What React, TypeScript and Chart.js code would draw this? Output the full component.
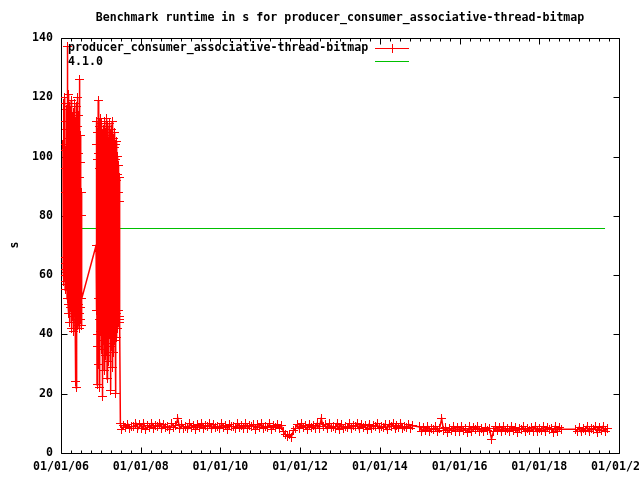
import React, { useEffect, useRef } from "react";
import { Chart, registerables } from "chart.js";

Chart.register(...registerables);

const TITLE = "Benchmark runtime in s for producer_consumer_associative-thread-bitmap";
const Y_TITLE = "s";
const SERIES_RUN = "producer_consumer_associative-thread-bitmap";
const SERIES_VERSION = "4.1.0";

// first burst of runs (decimal years / seconds)
const BURST1_YEARS = [
  2006.050, 2006.056, 2006.062, 2006.068, 2006.074, 2006.080, 2006.086, 2006.092, 2006.098, 2006.104,
  2006.110, 2006.116, 2006.122, 2006.128, 2006.134, 2006.140, 2006.146, 2006.152, 2006.158, 2006.164,
  2006.170, 2006.176, 2006.182, 2006.188, 2006.194, 2006.200, 2006.206, 2006.212, 2006.218, 2006.224,
  2006.230, 2006.236, 2006.242, 2006.248, 2006.254, 2006.260, 2006.266, 2006.272, 2006.278, 2006.284,
  2006.290, 2006.296, 2006.302, 2006.308, 2006.314, 2006.320, 2006.326, 2006.332, 2006.338, 2006.344,
  2006.350, 2006.356, 2006.362, 2006.368, 2006.374, 2006.380, 2006.386, 2006.392, 2006.398, 2006.404,
  2006.410, 2006.416, 2006.422, 2006.428, 2006.434, 2006.440, 2006.446, 2006.452, 2006.458, 2006.464,
  2006.470, 2006.476, 2006.482, 2006.488, 2006.494, 2006.500, 2006.506, 2006.512, 2006.518, 2006.524,
];
const BURST1_SECONDS = [
  104, 62, 118, 58, 96, 66, 112, 60, 120, 55,
  88, 64, 102, 57, 116, 61, 109, 52, 137, 63,
  98, 50, 121, 59, 106, 47, 117, 56, 92, 44,
  113, 60, 100, 49, 119, 54, 95, 42, 111, 58,
  104, 46, 115, 53, 90, 41, 108, 57, 118, 48,
  99, 44, 112, 24, 103, 22, 117, 51, 96, 43,
  110, 55, 120, 45, 101, 50, 114, 42, 126, 47,
  93, 52, 107, 45, 98, 49, 88, 43, 80, 52,
];

// second burst of runs
const BURST2_YEARS = [
  2006.880, 2006.886, 2006.892, 2006.898, 2006.904, 2006.910, 2006.916, 2006.922, 2006.928, 2006.934,
  2006.940, 2006.946, 2006.952, 2006.958, 2006.964, 2006.970, 2006.976, 2006.982, 2006.988, 2006.994,
  2007.000, 2007.006, 2007.012, 2007.018, 2007.024, 2007.030, 2007.036, 2007.042, 2007.048, 2007.054,
  2007.060, 2007.066, 2007.072, 2007.078, 2007.084, 2007.090, 2007.096, 2007.102, 2007.108, 2007.114,
  2007.120, 2007.126, 2007.132, 2007.138, 2007.144, 2007.150, 2007.156, 2007.162, 2007.168, 2007.174,
  2007.180, 2007.186, 2007.192, 2007.198, 2007.204, 2007.210, 2007.216, 2007.222, 2007.228, 2007.234,
  2007.240, 2007.246, 2007.252, 2007.258, 2007.264, 2007.270, 2007.276, 2007.282, 2007.288, 2007.294,
  2007.300, 2007.306, 2007.312, 2007.318, 2007.324, 2007.330, 2007.336, 2007.342, 2007.348, 2007.354,
  2007.360, 2007.366, 2007.372, 2007.378, 2007.384, 2007.390, 2007.396, 2007.402, 2007.408, 2007.414,
  2007.420, 2007.426, 2007.432, 2007.438, 2007.444, 2007.450, 2007.456, 2007.462, 2007.468, 2007.474,
  2007.480,
];
const BURST2_SECONDS = [
  70, 104, 48, 112, 23, 99, 40, 108, 36, 119,
  52, 101, 30, 110, 45, 96, 22, 113, 41, 104,
  50, 98, 35, 111, 47, 107, 19, 95, 43, 109,
  38, 102, 49, 97, 28, 112, 44, 106, 33, 100,
  51, 108, 39, 94, 46, 113, 25, 103, 42, 110,
  37, 99, 48, 105, 31, 111, 45, 96, 40, 107,
  21, 102, 47, 109, 36, 98, 44, 112, 29, 101,
  50, 95, 41, 106, 34, 103, 46, 90, 38, 108,
  43, 99, 20, 104, 47, 92, 39, 105, 45, 100,
  42, 94, 48, 97, 44, 88, 46, 93, 45, 85,
  44,
];

// steady period after the fix
const STEADY_YEARS = [
  2007.49, 2007.53, 2007.58, 2007.63, 2007.68, 2007.73, 2007.78, 2007.83, 2007.88, 2007.93, 2007.98,
  2008.03, 2008.08, 2008.13, 2008.18, 2008.23, 2008.28, 2008.33, 2008.38, 2008.43, 2008.48,
  2008.53, 2008.58, 2008.63, 2008.68, 2008.73, 2008.78, 2008.83, 2008.88, 2008.93, 2008.98,
  2009.03, 2009.08, 2009.13, 2009.18, 2009.23, 2009.28, 2009.33, 2009.38, 2009.43, 2009.48,
  2009.53, 2009.58, 2009.63, 2009.68, 2009.73, 2009.78, 2009.83, 2009.88, 2009.93, 2009.98,
  2010.03, 2010.08, 2010.13, 2010.18, 2010.23, 2010.28, 2010.33, 2010.38, 2010.43, 2010.48,
  2010.53, 2010.58, 2010.63, 2010.68, 2010.73, 2010.78, 2010.83, 2010.88, 2010.93, 2010.98,
  2011.03, 2011.08, 2011.13, 2011.18, 2011.23, 2011.28, 2011.33, 2011.38, 2011.43, 2011.48,
  2011.53, 2011.58, 2011.63, 2011.68, 2011.73, 2011.78, 2011.83, 2011.88, 2011.93, 2011.98,
  2012.03, 2012.08, 2012.13, 2012.18, 2012.23, 2012.28, 2012.33, 2012.38, 2012.43, 2012.48,
  2012.53, 2012.58, 2012.63, 2012.68, 2012.73, 2012.78, 2012.83, 2012.88, 2012.93, 2012.98,
  2013.03, 2013.08, 2013.13, 2013.18, 2013.23, 2013.28, 2013.33, 2013.38, 2013.43, 2013.48,
  2013.53, 2013.58, 2013.63, 2013.68, 2013.73, 2013.78, 2013.83, 2013.88, 2013.93, 2013.98,
  2014.03, 2014.08, 2014.13, 2014.18, 2014.23, 2014.28, 2014.33, 2014.38, 2014.43, 2014.48,
  2014.53, 2014.58, 2014.63, 2014.68, 2014.73, 2014.78, 2014.83,
  2015.00, 2015.05, 2015.10, 2015.15, 2015.20, 2015.25, 2015.30, 2015.35, 2015.40, 2015.45,
  2015.50, 2015.55, 2015.60, 2015.65, 2015.70, 2015.75, 2015.80, 2015.85, 2015.90, 2015.95,
  2016.00, 2016.05, 2016.10, 2016.15, 2016.20, 2016.25, 2016.30, 2016.35, 2016.40, 2016.45,
  2016.50, 2016.55, 2016.60, 2016.65, 2016.70, 2016.75, 2016.80, 2016.85, 2016.90, 2016.95,
  2017.00, 2017.05, 2017.10, 2017.15, 2017.20, 2017.25, 2017.30, 2017.35, 2017.40, 2017.45,
  2017.50, 2017.55, 2017.60, 2017.65, 2017.70, 2017.75, 2017.80, 2017.85, 2017.90, 2017.95,
  2018.00, 2018.05, 2018.10, 2018.15, 2018.20, 2018.25, 2018.30, 2018.35, 2018.40, 2018.45,
  2018.50, 2018.55, 2018.90, 2018.95,
  2019.00, 2019.05, 2019.10, 2019.15, 2019.20, 2019.25, 2019.30, 2019.35, 2019.40, 2019.45,
  2019.50, 2019.55, 2019.60, 2019.65, 2019.70,
];
const STEADY_SECONDS = [
  9.9, 8.0, 9.3, 8.6, 9.7, 8.2, 9.0, 8.8, 10.0, 8.1, 9.5,
  8.4, 9.8, 8.0, 9.2, 8.7, 9.9, 8.3, 9.4, 8.9, 10.1,
  8.2, 9.6, 8.5, 9.1, 8.0, 9.8, 8.6, 9.3, 11.6, 8.2,
  9.7, 8.4, 9.0, 8.1, 9.9, 8.7, 9.4, 8.0, 9.6, 8.5,
  10.0, 8.3, 9.2, 8.8, 9.8, 8.1, 9.5, 8.6, 9.1, 8.2,
  9.9, 8.5, 9.3, 8.0, 9.7, 8.8, 9.0, 8.3, 10.0, 8.6,
  9.4, 8.1, 9.8, 8.4, 9.2, 8.9, 9.6, 8.0, 9.5, 8.7,
  9.9, 8.2, 9.1, 8.6, 9.8, 8.0, 9.4, 8.5, 9.7, 8.3,
  9.2, 7.2, 6.1, 5.6, 6.4, 5.3, 7.5, 8.4, 9.6, 8.1,
  9.9, 8.5, 9.2, 8.0, 9.7, 8.7, 9.4, 8.2, 10.0, 8.4,
  11.6, 8.8, 9.5, 8.1, 9.8, 8.6, 9.1, 8.3, 9.9, 8.0,
  9.6, 8.4, 9.0, 8.7, 9.8, 8.2, 9.3, 8.9, 10.0, 8.1,
  9.5, 8.6, 9.2, 8.0, 9.7, 8.4, 9.4, 8.8, 9.9, 8.3,
  9.1, 8.6, 9.7, 8.0, 9.5, 8.8, 9.9, 8.2, 9.3, 8.5,
  9.8, 8.1, 9.0, 8.7, 9.6, 8.3, 9.2,
  8.8, 7.2, 8.5, 7.6, 9.0, 7.3, 8.2, 7.8, 8.9, 7.1,
  8.4, 11.6, 7.5, 8.7, 7.0, 8.3, 7.7, 9.0, 7.4, 8.6,
  7.2, 8.8, 7.6, 8.1, 7.0, 8.9, 7.4, 8.5, 7.8, 9.0,
  7.3, 8.3, 7.1, 8.7, 7.5, 8.4, 4.7, 7.2, 8.9, 7.6,
  8.5, 7.1, 8.8, 7.7, 8.2, 7.3, 9.0, 7.5, 8.6, 7.0,
  8.4, 7.8, 8.9, 7.2, 8.1, 7.6, 8.7, 7.4, 9.0, 7.1,
  8.3, 7.5, 8.8, 7.2, 8.6, 7.9, 8.1, 7.0, 8.9, 7.4,
  8.5, 8.0, 8.0, 7.3,
  8.7, 7.1, 8.4, 7.6, 9.0, 7.2, 8.2, 7.8, 8.8, 7.0,
  8.5, 7.5, 8.9, 7.3, 8.1,
];

const VERSION_YEARS = [2006.15, 2019.65];
const VERSION_SECONDS = [76, 76];

const X_TICKS = [2006, 2008, 2010, 2012, 2014, 2016, 2018, 2020];
const Y_TICKS = [0, 20, 40, 60, 80, 100, 120, 140];

const RED = "#ff0000";
const GREEN = "#00c000";
const FONT_FAMILY = "'DejaVu Sans Mono', monospace";
const FONT = "bold 11.6px " + FONT_FAMILY;

function makeCross(color: string): HTMLCanvasElement {
  const c = document.createElement("canvas");
  c.width = 9;
  c.height = 9;
  const g = c.getContext("2d")!;
  g.fillStyle = color;
  g.fillRect(0, 4, 9, 1);
  g.fillRect(4, 0, 1, 9);
  return c;
}

const framePlugin = {
  id: "gnuframe",
  beforeDatasetsDraw(chart: any) {
    const { ctx, chartArea } = chart;
    const xs = chart.scales.x;
    const ys = chart.scales.y;
    const l = Math.round(chartArea.left) + 0.5;
    const r = Math.round(chartArea.right) + 0.5;
    const t = Math.round(chartArea.top) + 0.5;
    const b = Math.round(chartArea.bottom) + 0.5;
    ctx.save();
    ctx.strokeStyle = "#000";
    ctx.lineWidth = 1;
    ctx.beginPath();
    ctx.rect(l, t, r - l, b - t);
    for (let q = 0; q <= 56; q++) {
      const v = X_TICKS[0] + q * 0.25;
      const px = Math.round(xs.getPixelForValue(v)) + 0.5;
      const len = q % 8 === 0 ? 6 : 3;
      ctx.moveTo(px, b);
      ctx.lineTo(px, b - len);
      ctx.moveTo(px, t);
      ctx.lineTo(px, t + len);
    }
    for (const v of Y_TICKS) {
      const py = Math.round(ys.getPixelForValue(v)) + 0.5;
      ctx.moveTo(l, py);
      ctx.lineTo(l + 6, py);
      ctx.moveTo(r, py);
      ctx.lineTo(r - 6, py);
    }
    ctx.stroke();
    ctx.restore();
    ctx.imageSmoothingEnabled = false;
  },
  beforeDatasetDraw(chart: any, args: any) {
    if (args.index !== 1) return;
    const ys = chart.scales.y;
    const py = ys.getPixelForValue(VERSION_SECONDS[0]);
    const snapped = Math.round(py) + 0.5;
    chart.ctx.save();
    chart.ctx.translate(0, snapped - py);
  },
  afterDatasetDraw(chart: any, args: any) {
    if (args.index !== 1) return;
    chart.ctx.restore();
  },
  afterDraw(chart: any) {
    const { ctx, chartArea } = chart;
    ctx.save();
    ctx.fillStyle = "#000";
    ctx.font = FONT;
    ctx.textAlign = "center";
    ctx.textBaseline = "middle";
    ctx.fillText(TITLE, (chartArea.left + chartArea.right) / 2, 18);
    ctx.save();
    ctx.translate(15, 245);
    ctx.rotate(-Math.PI / 2);
    ctx.fillText(Y_TITLE, 0, 0);
    ctx.restore();
    ctx.textAlign = "left";
    ctx.fillText(SERIES_RUN, 68, 48);
    ctx.fillText(SERIES_VERSION, 68, 62);
    ctx.lineWidth = 1;
    ctx.strokeStyle = RED;
    ctx.beginPath();
    ctx.moveTo(375, 48.5);
    ctx.lineTo(409, 48.5);
    ctx.moveTo(392.5, 44);
    ctx.lineTo(392.5, 53);
    ctx.stroke();
    ctx.strokeStyle = GREEN;
    ctx.beginPath();
    ctx.moveTo(375, 61.5);
    ctx.lineTo(409, 61.5);
    ctx.stroke();
    ctx.restore();
  },
};

export default function App() {
  const ref = useRef<HTMLCanvasElement | null>(null);

  useEffect(() => {
    if (!ref.current) return;
    document.body.style.margin = "0";
    Chart.defaults.font.family = FONT_FAMILY;
    const years = [...BURST1_YEARS, ...BURST2_YEARS, ...STEADY_YEARS];
    const secs = [...BURST1_SECONDS, ...BURST2_SECONDS, ...STEADY_SECONDS];
    const runData = years.map((x, i) => ({ x, y: secs[i] }));
    const versionData = VERSION_YEARS.map((x, i) => ({ x, y: VERSION_SECONDS[i] }));
    const tickFont = { size: 11.6, weight: "bold" as const, family: FONT_FAMILY };
    const cross = makeCross(RED);
    const chart = new Chart(ref.current, {
      type: "line",
      data: {
        datasets: [
          {
            label: SERIES_RUN,
            data: runData,
            borderColor: RED,
            backgroundColor: RED,
            borderWidth: 1.5,
            pointStyle: cross as any,
            pointRadius: 4.5,
            pointBorderWidth: 1,
            pointBorderColor: RED,
            tension: 0,
            fill: false,
          },
          {
            label: SERIES_VERSION,
            data: versionData,
            borderColor: GREEN,
            backgroundColor: GREEN,
            borderWidth: 1,
            pointRadius: 0,
            tension: 0,
            fill: false,
          },
        ],
      },
      options: {
        responsive: false,
        animation: false,
        events: [],
        layout: { padding: { top: 38, right: 21, left: 0, bottom: 0 } },
        plugins: {
          legend: { display: false },
          title: { display: false },
          tooltip: { enabled: false },
        },
        scales: {
          x: {
            type: "linear",
            min: 2006,
            max: 2020,
            grid: { display: false, drawTicks: false, tickLength: 0 },
            border: { display: false },
            ticks: {
              stepSize: 2,
              autoSkip: false,
              maxRotation: 0,
              minRotation: 0,
              padding: 7,
              color: "#000",
              font: tickFont,
              callback: (v: any) => {
                const n = Math.round(Number(v));
                if (!X_TICKS.includes(n)) return "";
                return "01/01/" + String(n % 100).padStart(2, "0");
              },
            },
            afterFit: (s: any) => {
              s.height = 27;
              s.paddingLeft = 0;
              s.paddingRight = 0;
            },
          },
          y: {
            min: 0,
            max: 140,
            grid: { display: false, drawTicks: false, tickLength: 0 },
            border: { display: false },
            ticks: {
              stepSize: 20,
              padding: 8,
              color: "#000",
              font: tickFont,
              callback: (v: any) => String(v),
            },
            afterFit: (s: any) => {
              s.width = 61;
              s.paddingTop = 0;
              s.paddingBottom = 0;
            },
          },
        },
      },
      plugins: [framePlugin],
    });
    return () => chart.destroy();
  }, []);

  return (
    <div style={{ position: "absolute", left: 0, top: 0, width: 640, height: 480, background: "#fff" }}>
      <canvas ref={ref} width={640} height={480} />
    </div>
  );
}
